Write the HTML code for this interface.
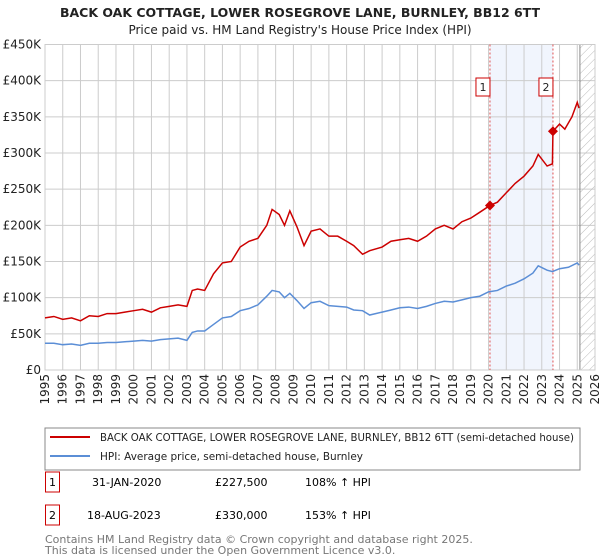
<!DOCTYPE html>
<html><head><meta charset="utf-8"><style>
body{margin:0;background:#fff;font-family:"DejaVu Sans","Liberation Sans",sans-serif;}
#wrap{position:relative;width:600px;height:560px;overflow:hidden}
</style></head><body><div id="wrap">
<svg id="svg" width="600" height="560" xmlns="http://www.w3.org/2000/svg">
<defs><pattern id="hatch" width="6" height="6" patternUnits="userSpaceOnUse" patternTransform="rotate(45)"><line x1="0" y1="0" x2="0" y2="6" stroke="#bbb" stroke-width="1"/></pattern></defs>
<text x="300" y="17" text-anchor="middle" font-size="12.5" font-weight="bold" fill="#222">BACK OAK COTTAGE, LOWER ROSEGROVE LANE, BURNLEY, BB12 6TT</text>
<text x="300" y="34" text-anchor="middle" font-size="12" fill="#222">Price paid vs. HM Land Registry's House Price Index (HPI)</text>
<g id="plot"></g>
<rect x="45" y="428" width="535" height="42" fill="#fff" stroke="#888"/>
<line x1="50" y1="437" x2="90" y2="437" stroke="#cc0000" stroke-width="2"/>
<text x="100" y="441" font-size="10.5" fill="#222" textLength="474" lengthAdjust="spacingAndGlyphs">BACK OAK COTTAGE, LOWER ROSEGROVE LANE, BURNLEY, BB12 6TT (semi-detached house)</text>
<line x1="50" y1="456" x2="90" y2="456" stroke="#5b8ed6" stroke-width="2"/>
<text x="100" y="460" font-size="10.5" fill="#222" textLength="263" lengthAdjust="spacingAndGlyphs">HPI: Average price, semi-detached house, Burnley</text>
<rect x="45.5" y="472" width="14" height="20" fill="#fff" stroke="#cc0000"/>
<text x="52.5" y="486" text-anchor="middle" font-size="11">1</text>
<text x="92" y="486" font-size="11">31-JAN-2020</text>
<text x="215" y="486" font-size="11">£227,500</text>
<text x="305" y="486" font-size="11">108% ↑ HPI</text>
<rect x="45.5" y="505" width="14" height="20" fill="#fff" stroke="#cc0000"/>
<text x="52.5" y="519" text-anchor="middle" font-size="11">2</text>
<text x="87" y="519" font-size="11">18-AUG-2023</text>
<text x="215" y="519" font-size="11">£330,000</text>
<text x="305" y="519" font-size="11">153% ↑ HPI</text>
<text x="45" y="543" font-size="11" fill="#777">Contains HM Land Registry data © Crown copyright and database right 2025.</text>
<text x="45" y="554" font-size="11" fill="#777">This data is licensed under the Open Government Licence v3.0.</text>
</svg></div>
<script>
const hpiYears=[1995,1995.5,1996,1996.5,1997,1997.5,1998,1998.5,1999,1999.5,2000,2000.5,2001,2001.5,2002,2002.5,2003,2003.3,2003.6,2004,2004.5,2005,2005.5,2006,2006.5,2007,2007.5,2007.8,2008.2,2008.5,2008.8,2009.2,2009.6,2010,2010.5,2011,2011.5,2012,2012.4,2012.9,2013.3,2014,2014.5,2015,2015.5,2016,2016.5,2017,2017.5,2018,2018.5,2019,2019.5,2020,2020.5,2021,2021.5,2022,2022.5,2022.8,2023.3,2023.6,2024,2024.5,2025,2025.1];
const hpiValues=[37,37,35,36,34,37,37,38,38,39,40,41,40,42,43,44,41,52,54,54,63,72,74,82,85,90,102,110,108,100,106,96,85,93,95,89,88,87,83,82,76,80,83,86,87,85,88,92,95,94,97,100,102,108,110,116,120,126,134,144,138,136,140,142,148,145];
const priceYears=[1995,1995.5,1996,1996.5,1997,1997.5,1998,1998.5,1999,1999.5,2000,2000.5,2001,2001.5,2002,2002.5,2003,2003.3,2003.6,2004,2004.5,2005,2005.5,2006,2006.5,2007,2007.5,2007.8,2008.2,2008.5,2008.8,2009.2,2009.6,2010,2010.5,2011,2011.5,2012,2012.4,2012.9,2013.3,2014,2014.5,2015,2015.5,2016,2016.5,2017,2017.5,2018,2018.5,2019,2019.5,2020.08,2020.5,2021,2021.5,2022,2022.5,2022.8,2023.3,2023.6,2023.63,2024,2024.3,2024.7,2025,2025.1];
const priceValues=[72,74,70,72,68,75,74,78,78,80,82,84,80,86,88,90,88,110,112,110,133,148,150,170,178,182,200,222,215,200,220,198,172,192,195,185,185,178,172,160,165,170,178,180,182,178,185,195,200,195,205,210,218,227.5,232,245,258,268,282,298,282,285,330,340,333,350,370,362];
const sales=[[2020.08,227.5,"1"],[2023.63,330,"2"]];
const yTicks=[0,50,100,150,200,250,300,350,400,450];
const yTickLabels=["£0","£50K","£100K","£150K","£200K","£250K","£300K","£350K","£400K","£450K"];
const xTicks=[1995,1996,1997,1998,1999,2000,2001,2002,2003,2004,2005,2006,2007,2008,2009,2010,2011,2012,2013,2014,2015,2016,2017,2018,2019,2020,2021,2022,2023,2024,2025,2026];

const L=45,R=595,T=44.5,B=370;
const xs=y=>L+(y-1995)/(2026-1995)*(R-L);
const ys=v=>B-v/450*(B-T);
const NS="http://www.w3.org/2000/svg";
const g=document.getElementById('plot');
function mk(tag,attrs){const e=document.createElementNS(NS,tag);for(const k in attrs)e.setAttribute(k,attrs[k]);g.appendChild(e);return e;}
let e;
e=mk('rect',{x:xs(2020.08),y:T,width:xs(2023.63)-xs(2020.08),height:B-T,fill:'#eef3fc',opacity:0.8});


yTicks.forEach((v,i)=>{
 e=mk('line',{x1:L,x2:R,y1:ys(v),y2:ys(v),stroke:'#ccc','stroke-width':1});
 
 
 e=mk('text',{x:L-4,y:ys(v)+4,'text-anchor':'end','font-size':12,fill:'#222'});e.textContent=yTickLabels[i];
 
 
});
xTicks.forEach(y=>{
 e=mk('line',{x1:xs(y),x2:xs(y),y1:T,y2:B,stroke:'#ccc','stroke-width':1});
 
 
 e=mk('text',{x:0,y:0,'text-anchor':'end','font-size':12,fill:'#222',transform:`translate(${xs(y)+4},374) rotate(-90)`});e.textContent=y;
 
 
});
e=mk('rect',{x:xs(2025.15),y:T,width:R-xs(2025.15),height:B-T,fill:'url(#hatch)'});


e=mk('line',{x1:xs(2025.15),x2:xs(2025.15),y1:T,y2:B,stroke:'#888','stroke-width':1});


e=mk('rect',{x:L,y:T,width:R-L,height:B-T,fill:'none',stroke:'#ccc'});


sales.forEach(s=>{
 e=mk('line',{x1:xs(s[0]),x2:xs(s[0]),y1:T,y2:B,stroke:'#e05050','stroke-dasharray':'2,2','stroke-width':1});
 
 
});
e=mk('polyline',{points:hpiYears.map((y,i)=>xs(y)+','+ys(hpiValues[i])).join(' '),fill:'none',stroke:'#5b8ed6','stroke-width':1.5});


e=mk('polyline',{points:priceYears.map((y,i)=>xs(y)+','+ys(priceValues[i])).join(' '),fill:'none',stroke:'#cc0000','stroke-width':1.5});


sales.forEach(s=>{
 const cx=xs(s[0]),cy=ys(s[1]);
 e=mk('polygon',{points:`${cx},${cy-5} ${cx+5},${cy} ${cx},${cy+5} ${cx-5},${cy}`,fill:'#cc0000'});
 
 
 e=mk('rect',{x:cx-14,y:78,width:14,height:18,fill:'#fff',stroke:'#cc0000'});
 
 
 e=mk('text',{x:cx-7,y:91,'text-anchor':'middle','font-size':11,fill:'#222'});e.textContent=s[2];
 
 
});
</script></body></html>
